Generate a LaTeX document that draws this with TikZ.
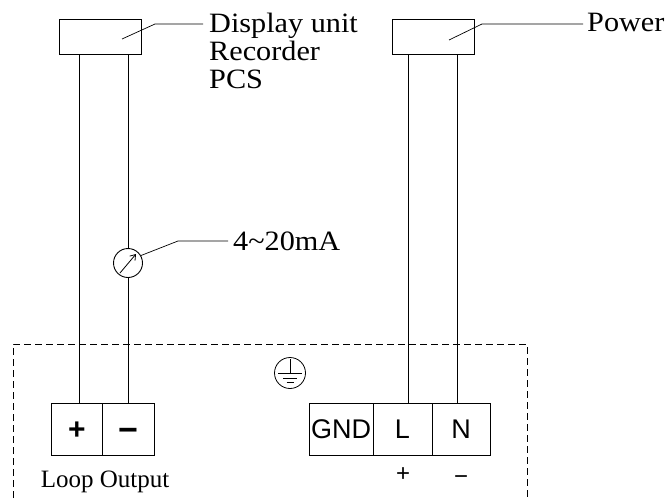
\documentclass[tikz,border=0pt]{standalone}
\usepackage{fontspec}
\setmainfont{Liberation Serif}
\setsansfont{Liberation Sans}
\newfontfamily\widefont[FakeStretch=1.08]{Liberation Serif}
\usetikzlibrary{arrows.meta}
\begin{document}
\begin{tikzpicture}[x=1pt,y=-1pt,
  box/.style={draw, line width=0.9pt, minimum width=82pt, minimum height=35pt, inner sep=0pt},
  term/.style={draw, line width=0.9pt, minimum height=52pt, inner sep=0pt, font=\sffamily\fontsize{27}{27}\selectfont},
  wire/.style={line width=0.9pt},
  leader/.style={line width=0.7pt},
  lbl/.style={font=\widefont\fontsize{28}{29}\selectfont, inner sep=0pt, anchor=base west},
  small/.style={font=\fontsize{25}{26}\selectfont, inner sep=0pt, anchor=base},
  sign/.style={font=\sffamily\fontsize{24}{24}\selectfont, inner sep=0pt, anchor=base},
  bigsign/.style={inner sep=0pt, anchor=base},
  gline/.style={line width=0.7pt}]
\useasboundingbox (0,0) rectangle (668,498);

% top boxes
\node[box] (disp) at (100,36.5) {};
\node[box] (pow) at (433,36.5) {};

% terminals
\node[term, minimum width=51pt] (tplus) at (76.5,429) {};
\node[term, minimum width=52pt] (tminus) at (128,429) {};
\node[term, minimum width=64pt] (gnd) at (341,429) {GND};
\node[term, minimum width=59pt] (tL) at (402.5,429) {L};
\node[term, minimum width=58pt] (tN) at (461,429) {N};
\node[bigsign, font=\sffamily\bfseries\fontsize{30}{30}\selectfont] (plussign) at (77,439.5) {+};
\node[bigsign, font=\sffamily\bfseries\fontsize{34}{34}\selectfont] (minussign) at (128,441) {−};

% meter
\node[draw, circle, minimum size=29pt, inner sep=0pt, line width=0.9pt] (meter) at (128,263) {};
\draw[line width=0.8pt, -{Straight Barb[length=5pt,width=7pt]}] (120,273) -- (136,254);

% wires
\draw[wire] (79,0 |- disp.south) -- (79,0 |- tplus.north);
\draw[wire] (128,0 |- disp.south) -- (meter.north);
\draw[wire] (meter.south) -- (128,0 |- tminus.north);
\draw[wire] (408,0 |- pow.south) -- (408,0 |- tL.north);
\draw[wire] (457,0 |- pow.south) -- (457,0 |- tN.north);

% labels
\node[lbl] (dlab) at (209,32) {Display unit};
\node[lbl] (rlab) at (209,60) {Recorder};
\node[lbl] (plab) at (209,88) {PCS};
\node[lbl] (powlab) at (587,31) {Power};
\node[lbl] (malab) at (233,250) {4\char"7E 20mA};
\node[small] (loop) at (105,487) {Loop Output};
\node[sign] (lplus) at (403,481) {+};
\node[sign] (nminus) at (461,484) {−};

% leaders
\draw[leader] (122,39) -- (155,24) -- (203,24);
\draw[leader] (449,40) -- (482,24) -- (583,24);
\draw[leader] (meter.30) -- (178,241) -- (228,241);

% earth symbol
\node[draw, circle, minimum size=31pt, inner sep=0pt, line width=0.8pt] (earth) at (290,373) {};
\draw[gline] (290,359) -- (earth.center);
\draw[gline] (278,373) -- (302,373);
\draw[gline] (283,378) -- (297,378);
\draw[gline] (286.5,382.5) -- (293.5,382.5);

% dashed enclosure
\draw[line width=0.8pt, dash pattern=on 7pt off 4pt] (13,498) -- (13,344) -- (527,344) -- (527,498);
\end{tikzpicture}
\end{document}
